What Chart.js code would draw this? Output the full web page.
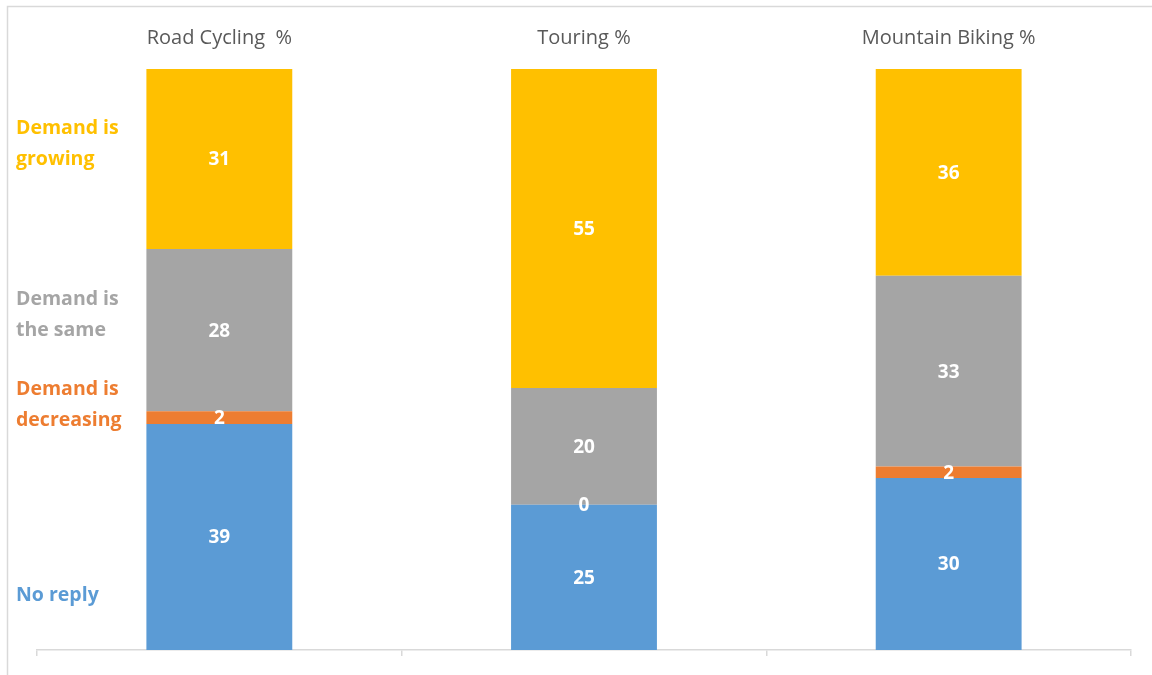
<!DOCTYPE html>
<html>
<head>
<meta charset="utf-8">
<script src="https://cdn.jsdelivr.net/npm/chart.js@4"></script>
<style>
  html, body { margin: 0; padding: 0; background: #fff; overflow: hidden; }
  #wrap { width: 1152px; height: 675px; }
</style>
</head>
<body>
<div id="wrap"><canvas id="chart" width="1152" height="675"></canvas></div>
<script>
// Data (percent of respondents)
const categories = ['Road Cycling  %', 'Touring %', 'Mountain Biking %'];
const noReply    = [38.9, 25.0, 29.6];
const decreasing = [2.2, 0.0, 2.0];
const theSame    = [27.9, 20.1, 32.8];
const growing    = [31.0, 54.9, 35.6];

const seriesNames = ['No reply', 'Demand is decreasing', 'Demand is the same', 'Demand is growing'];
const colors = ['#5B9BD5', '#ED7D31', '#A5A5A5', '#FFC000'];

// Labels drawn at the left, as in the original sheet
const sideLabels = [
    { lines: ['Demand is', 'growing'], color: '#FFC000', y: 128 },
    { lines: ['Demand is', 'the same'], color: '#A5A5A5', y: 299 },
    { lines: ['Demand is', 'decreasing'], color: '#ED7D31', y: 389 },
    { lines: ['No reply'], color: '#5B9BD5', y: 595 }
];

const frame = {
    id: 'frame',
    beforeDraw(chart) {
        const ctx = chart.ctx;
        ctx.save();
        ctx.strokeStyle = '#d9d9d9';
        ctx.lineWidth = 1.5;
        ctx.strokeRect(7.5, 6.5, 1300, 800);
        ctx.restore();
    }
};

// Values written inside the segments
const valueLabels = {
    id: 'valueLabels',
    afterDatasetsDraw(chart) {
        const ctx = chart.ctx;
        ctx.save();
        ctx.font = 'bold 19px "Open Sans"';
        ctx.fillStyle = '#ffffff';
        ctx.textAlign = 'center';
        ctx.textBaseline = 'middle';
        chart.data.datasets.forEach((ds, i) => {
            chart.getDatasetMeta(i).data.forEach((bar, j) => {
                const y = (bar.y + bar.base) / 2;
                ctx.fillText(Math.round(ds.data[j]), bar.x, y + 1);
            });
        });
        ctx.restore();
    }
};

const sideText = {
    id: 'sideText',
    afterDraw(chart) {
        const ctx = chart.ctx;
        ctx.save();
        ctx.font = 'bold 19.5px "Open Sans"';
        ctx.textAlign = 'left';
        ctx.textBaseline = 'middle';
        sideLabels.forEach(l => {
            ctx.fillStyle = l.color;
            l.lines.forEach((t, k) => ctx.fillText(t, 16, l.y + k * 31));
        });
        ctx.restore();
    }
};

const seriesData = [noReply, decreasing, theSame, growing];

new Chart(document.getElementById('chart'), {
    type: 'bar',
    data: {
        labels: categories,
        datasets: seriesData.map((d, i) => ({
            label: seriesNames[i],
            data: d,
            backgroundColor: colors[i],
            borderWidth: 0,
            categoryPercentage: 0.4,
            barPercentage: 1.0
        }))
    },
    options: {
        responsive: false,
        animation: false,
        layout: { padding: { left: 37, right: 21, top: 0, bottom: 0 } },
        plugins: {
            legend: { display: false },
            tooltip: { enabled: false }
        },
        scales: {
            x: {
                stacked: true,
                position: 'bottom',
                grid: {
                    drawOnChartArea: false,
                    drawTicks: true,
                    tickLength: 6,
                    color: '#d9d9d9',
                    lineWidth: 1.5
                },
                border: { color: '#d9d9d9', width: 1.5 },
                ticks: { display: false },
                afterFit(scale) { scale.height = 25; }
            },
            x2: {
                type: 'category',
                labels: categories,
                position: 'top',
                offset: true,
                grid: { display: false, drawTicks: false },
                border: { display: false },
                ticks: {
                    color: '#595959',
                    font: { family: 'Open Sans', size: 20 },
                    padding: 19
                },
                afterFit(scale) { scale.height = 69; }
            },
            y: {
                stacked: true,
                display: false,
                min: 0,
                max: 100
            }
        }
    },
    plugins: [frame, valueLabels, sideText]
});
</script>
</body>
</html>
